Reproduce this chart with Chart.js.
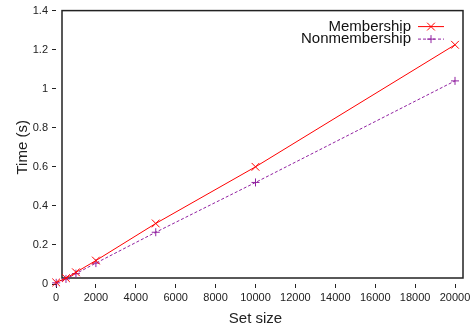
<!DOCTYPE html>
<html>
<head>
<meta charset="utf-8">
<script src="https://cdn.jsdelivr.net/npm/chart.js@4.4.1/dist/chart.umd.min.js"></script>
<style>
  html, body { margin: 0; padding: 0; background: #fff; }
  #wrap { width: 476px; height: 330px; }
</style>
</head>
<body>
<div id="wrap"><canvas id="chart" width="476" height="330"></canvas></div>
<script>
// values
const setSizes = [10, 500, 1000, 2000, 5000, 10000, 20000];
const membership = [0.008, 0.03, 0.06, 0.12, 0.31, 0.60, 1.225];
const nonmembership = [0.006, 0.026, 0.053, 0.107, 0.265, 0.52, 1.04];
const xTicks = [0, 2000, 4000, 6000, 8000, 10000, 12000, 14000, 16000, 18000, 20000];
const yTicks = [0, 0.2, 0.4, 0.6, 0.8, 1, 1.2, 1.4];

const FONT = 'Liberation Sans, Arial, sans-serif';
const RED = '#ff0000';
const PURPLE = '#9020a0';

// gnuplot-like box, shifted a bit from the data area
const framePlugin = {
    id: 'frame',
    beforeDatasetsDraw(chart) {
        const a = chart.chartArea;
        const ctx = chart.ctx;
        ctx.save();
        ctx.strokeStyle = '#222';
        ctx.lineWidth = 1.5;
        ctx.strokeRect(a.left + 6, a.top, a.right - a.left + 2, a.bottom - a.top - 6);
        ctx.restore();
    }
};

// legend: text on the left, sample on the right
const keyPlugin = {
    id: 'key',
    afterDatasetsDraw(chart) {
        const a = chart.chartArea;
        const ctx = chart.ctx;
        ctx.save();
        ctx.font = '15px ' + FONT;
        ctx.textAlign = 'right';
        ctx.textBaseline = 'middle';
        chart.data.datasets.forEach((ds, i) => {
            const y = a.top + 16 + i * 12.5;
            ctx.fillStyle = '#111';
            ctx.fillText(ds.label, a.right - 44, y);
            ctx.strokeStyle = ds.borderColor;
            ctx.lineWidth = 1;
            ctx.setLineDash(ds.borderDash || []);
            ctx.beginPath();
            ctx.moveTo(a.right - 37, y);
            ctx.lineTo(a.right - 11, y);
            ctx.stroke();
            ctx.setLineDash([]);
            Chart.helpers.drawPoint(ctx, {
                pointStyle: ds.pointStyle,
                radius: ds.pointRadius,
                borderWidth: 1
            }, a.right - 24, y);
        });
        ctx.restore();
    }
};

new Chart(document.getElementById('chart').getContext('2d'), {
    type: 'line',
    data: {
        datasets: [{
            label: 'Membership',
            data: setSizes.map((s, i) => ({ x: s, y: membership[i] })),
            borderColor: RED,
            backgroundColor: RED,
            borderWidth: 1,
            pointStyle: 'crossRot',
            pointRadius: 5.5,
            pointBorderWidth: 1,
            fill: false,
            tension: 0,
            clip: false
        }, {
            label: 'Nonmembership',
            data: setSizes.map((s, i) => ({ x: s, y: nonmembership[i] })),
            borderColor: PURPLE,
            backgroundColor: PURPLE,
            borderWidth: 1,
            borderDash: [3, 2],
            pointStyle: 'cross',
            pointRadius: 4,
            pointBorderWidth: 1,
            fill: false,
            tension: 0,
            clip: false
        }]
    },
    options: {
        responsive: false,
        animation: false,
        events: [],
        layout: { padding: { top: 6.5, right: 21, left: 0, bottom: 0 } },
        plugins: { legend: { display: false }, tooltip: { enabled: false } },
        scales: {
            x: {
                type: 'linear',
                min: 0,
                max: 20000,
                afterBuildTicks: s => { s.ticks = xTicks.map(v => ({ value: v })); },
                afterFit: s => { s.height = 46; },
                border: { display: false },
                grid: { drawOnChartArea: false, tickLength: 4, color: '#222' },
                ticks: { font: { family: FONT, size: 11 }, color: '#222', padding: 3, maxRotation: 0,
                         callback: v => String(v) },
                title: { display: true, text: 'Set size', font: { family: FONT, size: 15 }, color: '#222', padding: { top: 0, bottom: 2 } }
            },
            y: {
                type: 'linear',
                min: 0,
                max: 1.4,
                afterBuildTicks: s => { s.ticks = yTicks.map(v => ({ value: v })); },
                afterFit: s => { s.width = 56; },
                border: { display: false },
                grid: { drawOnChartArea: false, tickLength: 4, color: '#222' },
                ticks: { font: { family: FONT, size: 11 }, color: '#222', padding: 4,
                         callback: v => String(v) },
                title: { display: true, text: 'Time (s)', font: { family: FONT, size: 15 }, color: '#222', padding: { top: 14, bottom: 0 } }
            }
        }
    },
    plugins: [framePlugin, keyPlugin]
});
</script>
</body>
</html>
